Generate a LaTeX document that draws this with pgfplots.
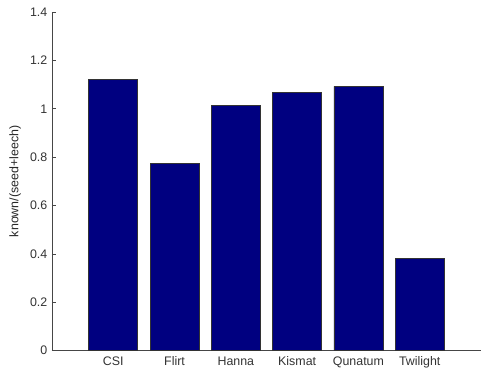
\documentclass[border=0pt]{standalone}
\usepackage{pgfplots}
\pgfplotsset{compat=1.18}
\usepackage{fontspec}
\setmainfont{Liberation Sans}
\definecolor{barnavy}{RGB}{0,0,128}
\definecolor{axgray}{RGB}{70,70,70}
\begin{document}
\begin{tikzpicture}
\begin{axis}[
  scale only axis,
  width=321.75pt, height=254pt,
  xmin=0, xmax=7, ymin=0, ymax=1.4,
  axis x line*=bottom, axis y line*=left,
  axis line style={axgray, line width=0.6pt},
  xtick={1,2,3,4,5,6},
  xticklabels={CSI,Flirt,Hanna,Kismat,Qunatum,Twilight},
  ytick={0,0.2,0.4,0.6,0.8,1,1.2,1.4},
  tick align=inside,
  major tick length=3pt,
  xtick style={draw=none},
  ytick style={axgray, line width=0.6pt},
  /pgf/number format/assume math mode=true,
  tick label style={font=\fontsize{9.3}{11}\selectfont, text=black!80},
  yticklabel style={/pgf/number format/fixed},
  ylabel={known/(seed+leech)},
  ylabel style={font=\fontsize{9.3}{11}\selectfont, text=black!85},
  xticklabel style={yshift=-1pt},
]
\addplot[ybar, bar width=0.8, fill=barnavy, draw=black!80, line width=0.5pt]
  coordinates {(1,1.123) (2,0.775) (3,1.015) (4,1.068) (5,1.093) (6,0.38)};
\end{axis}
\pgfresetboundingbox
\path[use as bounding box] ([xshift=-39pt,yshift=-13.9pt]current axis.south west) rectangle ([yshift=9pt]current axis.north east);
\end{tikzpicture}
\end{document}
